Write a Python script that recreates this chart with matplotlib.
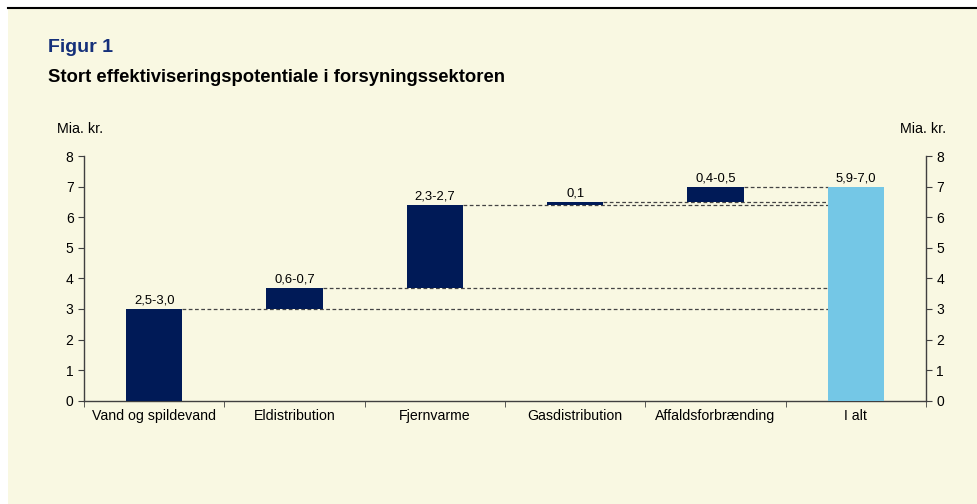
import matplotlib
matplotlib.use("Agg")
import matplotlib.pyplot as plt
import numpy as np

categories = ["Vand og spildevand", "Eldistribution", "Fjernvarme", "Gasdistribution", "Affaldsforbrænding", "I alt"]
increments = [3.0, 0.7, 2.7, 0.1, 0.5]
total = 7.0
value_labels = ["2,5-3,0", "0,6-0,7", "2,3-2,7", "0,1", "0,4-0,5", "5,9-7,0"]
yticks = [0, 1, 2, 3, 4, 5, 6, 7, 8]

navy = "#001a57"
light = "#74c7e6"
bg = "#f9f8e2"
spine_c = "#404040"

plt.rcParams['font.family'] = ['Liberation Sans', 'DejaVu Sans']

fig = plt.figure(figsize=(9.78, 5.04), dpi=100)
fig.patch.set_facecolor("white")
# cream panel
fig.patches.append(matplotlib.patches.Rectangle((8/978, 0), 1 - 8/978, 1 - 9/504,
                   transform=fig.transFigure, facecolor=bg, edgecolor="none", zorder=-10))
fig.lines.append(matplotlib.lines.Line2D([8/978, 1], [1 - 8/504, 1 - 8/504],
                 transform=fig.transFigure, color="black", lw=1.5))

ax = fig.add_axes([84/978, 1 - 400.7/504, (926 - 84)/978, (400.7 - 156)/504])
ax.set_facecolor("none")

x = np.arange(len(categories))
w = 0.4
bottoms = np.concatenate([[0], np.cumsum(increments)[:-1]])
tops = np.cumsum(increments)

ax.bar(x[:-1], increments, bottom=bottoms, width=w, color=navy, zorder=3)
ax.bar(x[-1], total, width=w, color=light, zorder=3)

for i in range(len(increments)):
    ax.plot([x[i] + w / 2, x[-1] - w / 2], [tops[i], tops[i]], color="#444444",
            lw=0.9, ls=(0, (3, 2)), zorder=2)

for i, lab in enumerate(value_labels):
    top = tops[i] if i < len(increments) else total
    ax.text(x[i], top + 0.08, lab, ha="center", va="bottom", fontsize=9.4, color="black")

ax.set_xlim(-0.5, len(categories) - 0.5)
ax.set_ylim(0, 8)
ax.set_yticks(yticks)
ax.set_xticks(x)
ax.set_xticklabels(categories, fontsize=10.2)
ax.set_xticks(np.arange(-0.5, len(categories), 1), minor=True)
ax.tick_params(axis="x", which="major", length=0, pad=6)
ax.tick_params(axis="x", which="minor", length=4, direction="out", color=spine_c)
ax.tick_params(axis="y", length=4, direction="out", color=spine_c, labelsize=10,
               left=True, right=True, labelleft=True, labelright=True)

for s in ["left", "right", "bottom"]:
    ax.spines[s].set_color(spine_c)
    ax.spines[s].set_linewidth(1.0)
ax.spines["top"].set_visible(False)

fig.text(48/978, 1 - 47/504, "Figur 1", fontsize=14, fontweight="bold", color="#15307a", va="center")
fig.text(48/978, 1 - 78/504, "Stort effektiviseringspotentiale i forsyningssektoren", fontsize=13.3,
         fontweight="bold", color="black", va="center")
fig.text(57/978, 1 - 129/504, "Mia. kr.", fontsize=10.3, va="center")
fig.text(946/978, 1 - 129/504, "Mia. kr.", fontsize=10.3, va="center", ha="right")

fig.savefig("out.png", dpi=100, facecolor=fig.get_facecolor())
